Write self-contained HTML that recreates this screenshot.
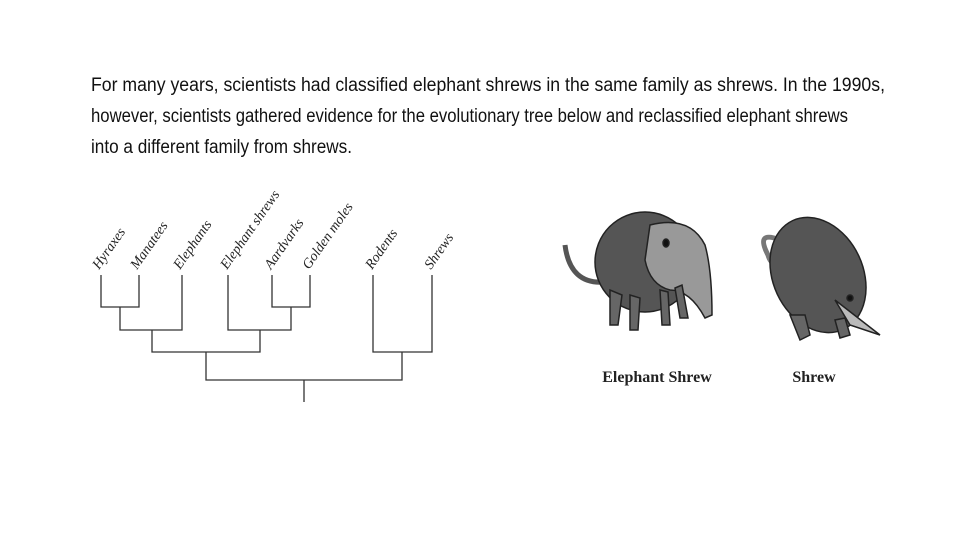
<!DOCTYPE html>
<html><head><style>
html,body{margin:0;padding:0;background:#fff;}
svg{display:block}
</style></head><body>
<svg width="978" height="550" viewBox="0 0 978 550" xmlns="http://www.w3.org/2000/svg">
<g font-family="Liberation Sans Narrow, Liberation Sans, sans-serif" font-size="19" fill="#111">
<text x="91" y="91" textLength="794" lengthAdjust="spacingAndGlyphs">For many years, scientists had classified elephant shrews in the same family as shrews. In the 1990s,</text>
<text x="91" y="122" textLength="757" lengthAdjust="spacingAndGlyphs">however, scientists gathered evidence for the evolutionary tree below and reclassified elephant shrews</text>
<text x="91" y="153" textLength="261" lengthAdjust="spacingAndGlyphs">into a different family from shrews.</text>
</g>
<g stroke="#333" stroke-width="1.3" fill="none">
<path d="M101 275V307H139V275M120 307V330H182V275M152 330V352H260V330M228 275V330H291V307M272 275V307H310V275M206 352V380H402V352H373V275M432 275V352H402M304 380V402"/>
</g>
<g font-family="Liberation Serif, serif" font-style="italic" font-size="14" fill="#222">
<text transform="translate(99,270) rotate(-55)">Hyraxes</text>
<text transform="translate(137,270) rotate(-55)">Manatees</text>
<text transform="translate(180,270) rotate(-55)">Elephants</text>
<text transform="translate(227,270) rotate(-55)">Elephant shrews</text>
<text transform="translate(271,270) rotate(-55)">Aardvarks</text>
<text transform="translate(309,270) rotate(-55)">Golden moles</text>
<text transform="translate(372,270) rotate(-55)">Rodents</text>
<text transform="translate(431,270) rotate(-55)">Shrews</text>
</g>
<!-- elephant shrew -->
<g stroke="#222" stroke-width="1.5">
<path d="M565 245 Q570 285 605 282" fill="none" stroke="#555" stroke-width="5"/>
<ellipse cx="645" cy="262" rx="50" ry="50" fill="#555"/>
<path d="M650 225 Q690 215 705 245 Q712 270 712 315 L705 318 Q690 290 670 290 Q650 285 645 260Z" fill="#999"/>
<path d="M610 290 L610 325 L618 325 L622 295Z M630 295 L630 330 L638 330 L640 298Z M660 290 L662 325 L670 325 L668 292Z M675 288 L680 318 L688 318 L682 285Z" fill="#666"/>
<ellipse cx="666" cy="243" rx="3" ry="4" fill="#111"/>
</g>
<!-- shrew -->
<g stroke="#222" stroke-width="1.5">
<path d="M780 240 Q755 230 768 255 Q772 270 790 262" fill="none" stroke="#777" stroke-width="5"/>
<ellipse cx="818" cy="275" rx="45" ry="60" fill="#555" transform="rotate(-25 818 275)"/>
<path d="M835 300 L880 335 L850 325Z" fill="#bbb"/>
<path d="M790 315 L800 340 L810 335 L805 315Z M835 320 L840 338 L850 335 L845 318Z" fill="#666"/>
<ellipse cx="850" cy="298" rx="3" ry="3" fill="#111"/>
</g>
<g font-family="Liberation Serif, serif" font-weight="bold" font-size="16" fill="#222" text-anchor="middle">
<text x="657" y="382">Elephant Shrew</text>
<text x="814" y="382">Shrew</text>
</g>
</svg>
</body></html>
